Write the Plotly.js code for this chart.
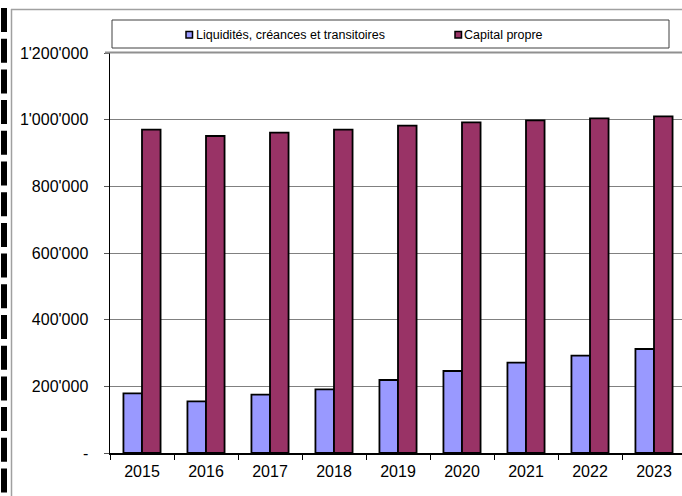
<!DOCTYPE html>
<html>
<head>
<meta charset="utf-8">
<script src="https://cdn.plot.ly/plotly-3.0.1.min.js"></script>
<style>
html,body{margin:0;padding:0;background:#fff;}
#chart{width:682px;height:496px;}
</style>
</head>
<body>
<div id="chart"></div>
<script>
const years = ['2015','2016','2017','2018','2019','2020','2021','2022','2023'];
const liquidites = [179000, 155000, 175000, 191000, 219000, 246000, 271000, 292000, 312000];
const capitalPropre = [970000, 951000, 961000, 970000, 982000, 992000, 998000, 1004000, 1010000];
const seriesNames = ['Liquidités, créances et transitoires', 'Capital propre'];
const seriesColors = ['#9999FF', '#993366'];
const yTickVals = [0, 200000, 400000, 600000, 800000, 1000000, 1200000];
const yTickText = ['-', "200'000", "400'000", "600'000", "800'000", "1'000'000", "1'200'000"];

const FONT = '"Liberation Sans", Arial, sans-serif';

const traces = [
  {type:'bar', x: years, y: liquidites, name: seriesNames[0],
   marker:{color: seriesColors[0], line:{color:'#000', width:1.8}}, showlegend:false},
  {type:'bar', x: years, y: capitalPropre, name: seriesNames[1],
   marker:{color: seriesColors[1], line:{color:'#000', width:1.8}}, showlegend:false}
];

// plot area: x 110..682 px, y 53..453 px
const px = v => (v - 110) / 572;
const py = v => (453 - v) / 400;

const layout = {
  width: 682, height: 496,
  margin: {l:110, r:0, t:53, b:43, pad:0},
  paper_bgcolor:'#fff', plot_bgcolor:'#fff',
  font: {family: FONT, size: 16, color:'#000'},
  barmode:'group', bargap:0.42, bargroupgap:0,
  showlegend:false,
  xaxis: {
    type:'category', range:[-0.5, 8.4375],
    showline:true, linecolor:'#000', linewidth:1.5,
    ticks:'outside', ticklen:5, tickcolor:'#000', tickwidth:1,
    tickson:'boundaries', showgrid:false, zeroline:false,
    ticklabelstandoff: 3,
    tickfont:{family:FONT, size:16, color:'#000'}
  },
  yaxis: {
    range:[0, 1200000], tickmode:'array', tickvals:yTickVals, ticktext:yTickText,
    showline:true, linecolor:'#000', linewidth:1.5,
    ticks:'outside', ticklen:5, tickcolor:'#555', tickwidth:1,
    ticklabelstandoff: 12,
    showgrid:true, gridcolor:'#808080', gridwidth:1, zeroline:false,
    tickfont:{family:FONT, size:16, color:'#000'}
  },
  shapes: [
    {type:'line', xref:'paper', yref:'paper', x0:px(4), x1:px(4), y0:py(8), y1:py(500),
     line:{color:'#000', width:6, dash:'24px,6.7px'}},
    {type:'line', xref:'paper', yref:'paper', x0:px(11.5), x1:px(11.5), y0:py(9), y1:py(500),
     line:{color:'#a0a0a0', width:1.5}},
    {type:'line', xref:'paper', yref:'paper', x0:px(11), x1:px(690), y0:py(9.5), y1:py(9.5),
     line:{color:'#a0a0a0', width:1.5}},
    {type:'line', xref:'paper', yref:'paper', x0:px(105), x1:px(690), y0:py(52.5), y1:py(52.5),
     line:{color:'#909090', width:2}},
    {type:'rect', xref:'paper', yref:'paper', x0:px(112), x1:px(669), y0:py(48), y1:py(20),
     line:{color:'#404040', width:1}, fillcolor:'rgba(0,0,0,0)'},
    {type:'rect', xref:'paper', yref:'paper', x0:px(186), x1:px(192.5), y0:py(38), y1:py(31.5),
     line:{color:'#000', width:1.5}, fillcolor: seriesColors[0]},
    {type:'rect', xref:'paper', yref:'paper', x0:px(455), x1:px(461.5), y0:py(38), y1:py(31.5),
     line:{color:'#000', width:1.5}, fillcolor: seriesColors[1]}
  ],
  annotations: [
    {xref:'paper', yref:'paper', x:px(194), y:py(34.5), xanchor:'left', yanchor:'middle',
     text: seriesNames[0], showarrow:false, font:{family:FONT, size:12.5, color:'#000'}},
    {xref:'paper', yref:'paper', x:px(462), y:py(34.5), xanchor:'left', yanchor:'middle',
     text: seriesNames[1], showarrow:false, font:{family:FONT, size:12.5, color:'#000'}}
  ]
};

Plotly.newPlot('chart', traces, layout, {displayModeBar:false, staticPlot:true});
</script>
</body>
</html>
